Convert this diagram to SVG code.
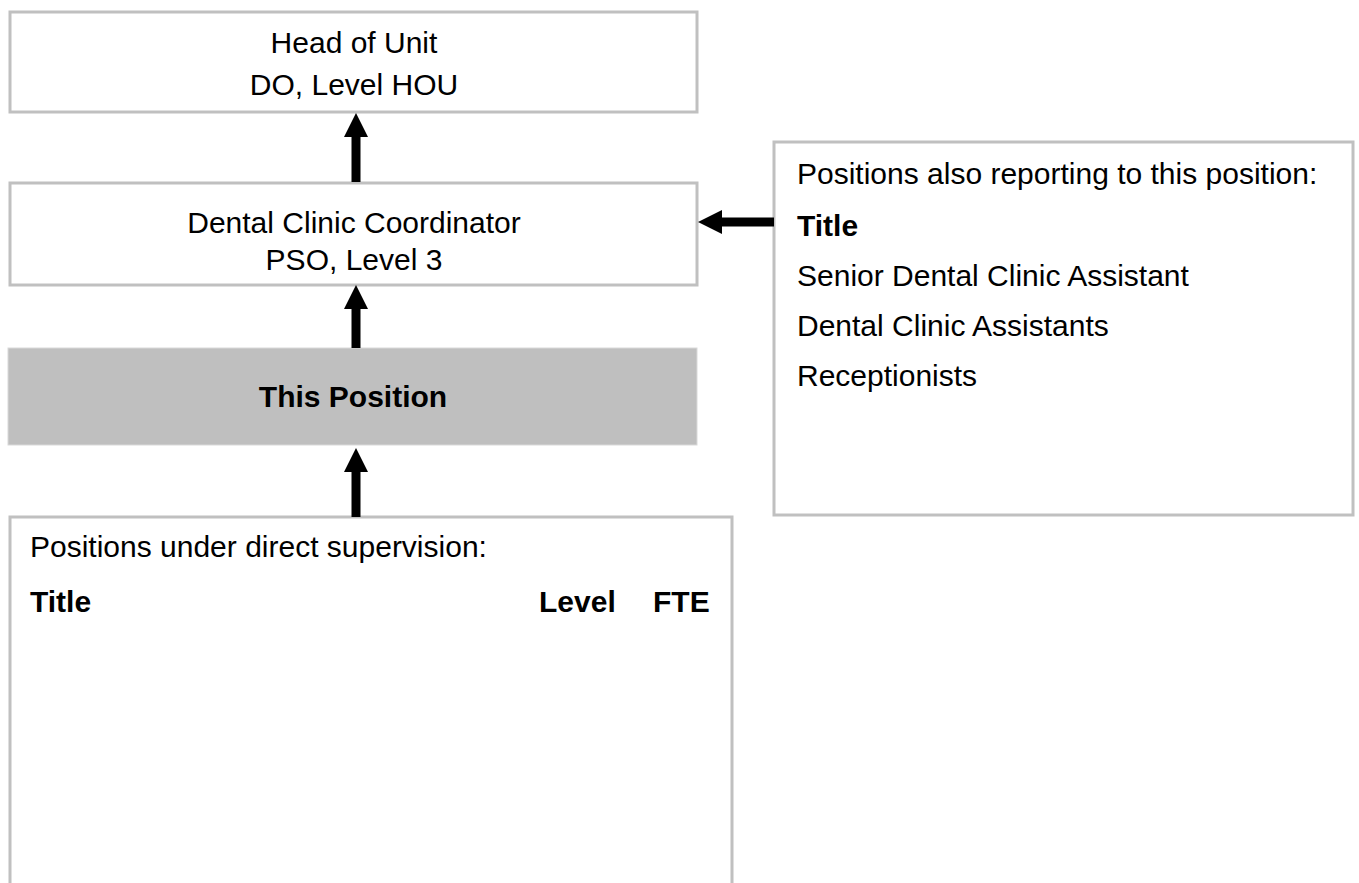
<svg xmlns="http://www.w3.org/2000/svg" width="1359" height="883" viewBox="0 0 1359 883">
  <defs>
    <style>
      .box { fill: #ffffff; stroke: #c0c0c0; stroke-width: 3; }
      .this { fill: #bfbfbf; stroke: #d9d9d9; stroke-width: 1; }
      .t { font-family: "Liberation Sans", Arial, sans-serif; font-size: 30px; fill: #000000; }
      .c { text-anchor: middle; }
      .b { font-weight: bold; }
      .conn { stroke: #000000; stroke-width: 9; fill: none; marker-end: url(#head); }
    </style>
    <marker id="head" viewBox="0 0 24 24" refX="0" refY="12" markerWidth="24" markerHeight="24" markerUnits="userSpaceOnUse" orient="auto">
      <path d="M0,0 L24,12 L0,24 Z" fill="#000000"/>
    </marker>
  </defs>
  <rect width="1359" height="883" fill="#ffffff"/>

  <g id="head-of-unit">
    <rect class="box" x="10" y="12" width="687" height="100"/>
    <text class="t c" x="354" y="53">Head of Unit</text>
    <text class="t c" x="354" y="95">DO, Level HOU</text>
  </g>

  <g id="coordinator">
    <rect class="box" x="10" y="183" width="687" height="102"/>
    <text class="t c" x="354" y="233">Dental Clinic Coordinator</text>
    <text class="t c" x="354" y="270">PSO, Level 3</text>
  </g>

  <g id="this-position">
    <rect class="this" x="8" y="348" width="689" height="97"/>
    <text class="t c b" x="353" y="407">This Position</text>
  </g>

  <g id="direct-supervision">
    <path class="box" d="M10,890 L10,517 L732,517 L732,890"/>
    <text class="t" x="30" y="557">Positions under direct supervision:</text>
    <text class="t b" x="30" y="612">Title</text>
    <text class="t b" x="539" y="612">Level</text>
    <text class="t b" x="653" y="612">FTE</text>
  </g>

  <g id="also-reporting">
    <rect class="box" x="774" y="142" width="579" height="373"/>
    <text class="t" x="797" y="184">Positions also reporting to this position:</text>
    <text class="t b" x="797" y="236">Title</text>
    <text class="t" x="797" y="286">Senior Dental Clinic Assistant</text>
    <text class="t" x="797" y="336">Dental Clinic Assistants</text>
    <text class="t" x="797" y="386">Receptionists</text>
  </g>

  <g id="connectors">
    <line class="conn" x1="356" y1="182" x2="356" y2="137"/>
    <line class="conn" x1="356" y1="348" x2="356" y2="309"/>
    <line class="conn" x1="356" y1="517" x2="356" y2="472"/>
    <line class="conn" x1="774" y1="222" x2="722" y2="222"/>
  </g>
</svg>
